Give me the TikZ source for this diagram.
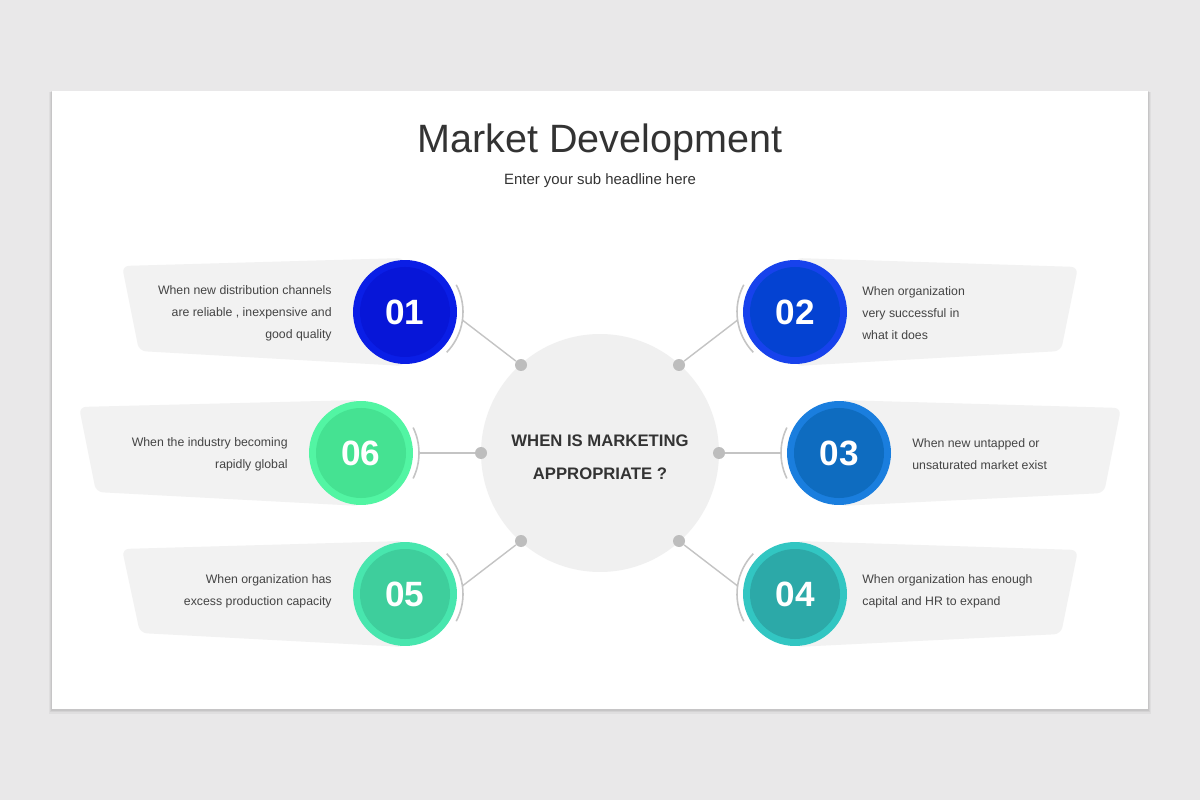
\documentclass[tikz,border=0pt]{standalone}
\usepackage{fontspec}
\setmainfont{Liberation Sans}
\usetikzlibrary{calc}

\definecolor{bgcol}{HTML}{E9E8E9}
\definecolor{panelcol}{HTML}{F2F2F2}
\definecolor{hubcol}{HTML}{F0F0F0}
\definecolor{linecol}{HTML}{C4C4C4}
\definecolor{dotcol}{HTML}{BDBDBD}
\definecolor{txtcol}{HTML}{444444}
\definecolor{titlecol}{HTML}{333333}
\definecolor{c1o}{HTML}{0A1EE6}
\definecolor{c1i}{HTML}{0716D8}
\definecolor{c2o}{HTML}{1742EC}
\definecolor{c2i}{HTML}{0442D2}
\definecolor{c3o}{HTML}{1A7EDE}
\definecolor{c3i}{HTML}{0E6CC0}
\definecolor{c4o}{HTML}{32C6C2}
\definecolor{c4i}{HTML}{2CA9A8}
\definecolor{c5o}{HTML}{48E6AE}
\definecolor{c5i}{HTML}{3ECE9C}
\definecolor{c6o}{HTML}{52F5A3}
\definecolor{c6i}{HTML}{45E292}

\tikzset{
    panel/.style={fill=panelcol, rounded corners=4pt},
    badge/.style={circle, minimum size=2.08cm, inner sep=0pt},
    num/.style={text=white, font=\bfseries\fontsize{20}{24}\selectfont},
    dot/.style={circle, fill=dotcol, minimum size=0.24cm, inner sep=0pt},
    link/.style={draw=linecol, line width=0.8pt},
    rim/.style={draw=linecol, line width=0.9pt},
    info/.style={text=txtcol, font=\fontsize{7}{12.5}\selectfont, inner sep=0pt}
}

\begin{document}
\begin{tikzpicture}[x=0.02cm, y=-0.02cm]
            \fill[bgcol] (0,0) rectangle (1200,800);
            \useasboundingbox (0,0) rectangle (1200,800);
            \fill[black, opacity=0.04] (49,92) rectangle (1151,714);
            \fill[black, opacity=0.05] (50,92) rectangle (1150,712);
            \fill[black, opacity=0.06] (51,91) rectangle (1149,710.5);
            \fill[white] (52,91) rectangle (1148,709);

            \node[text=titlecol, font=\fontsize{22.5}{27}\selectfont] (title) at (600,142) {Market Development};
            \node[text=titlecol, font=\fontsize{8.5}{10}\selectfont] (sub) at (600,181) {Enter your sub headline here};

            \fill[panel] (122,266) -- (405,258) -- (405,366) -- (139,351) -- cycle;
            \fill[panel] (795,258) -- (1078,267) -- (1061,351) -- (795,366) -- cycle;
            \fill[panel] (79,407) -- (361,400) -- (361,506) -- (96,492) -- cycle;
            \fill[panel] (839,400) -- (1121,408) -- (1104,493) -- (839,506) -- cycle;
            \fill[panel] (122,549) -- (405,541) -- (405,647) -- (140,633) -- cycle;
            \fill[panel] (795,541) -- (1078,550) -- (1061,634) -- (795,647) -- cycle;

            \node[circle, fill=hubcol, minimum size=4.76cm] (hub) at (600,453) {};
            \node[text=titlecol, align=center, font=\bfseries\fontsize{9.5}{18.7}\selectfont] (ask) at (600,457) {WHEN IS MARKETING\\APPROPRIATE ?};

            \foreach \i/\x/\y/\co/\ci/\mid/\hs/\dx/\dy in {01/405/312/c1o/c1i/8/36/521/365, 02/795/312/c2o/c2i/172/36/679/365, 03/839/453/c3o/c3i/180/26/719/453, 04/795/594/c4o/c4i/188/36/679/541, 05/405/594/c5o/c5i/-8/36/521/541, 06/361/453/c6o/c6i/0/26/481/453} {
                \node[badge, fill=\co] (b\i) at (\x,\y) {};
                \fill[\ci] (b\i) circle[radius=45];
                \node[num] (n\i) at (b\i) {\i};
                \node[dot] (d\i) at (\dx,\dy) {};
                \coordinate (a\i) at ($(b\i)+({\mid}:58)$);
                \draw[link] (a\i) -- (d\i);
                \draw[rim] ($(b\i)+({\mid-\hs}:58)$) arc[start angle={\mid-\hs}, end angle={\mid+\hs}, radius=58];
            }

            \node[info, anchor=east, align=right] (t01) at (332,313) {When new distribution channels\\are reliable , inexpensive and\\good quality};
            \node[info, anchor=west, align=left] (t02) at (862,313) {When organization\\very successful in\\what it does};
            \node[info, anchor=west, align=left] (t03) at (912,454) {When new untapped or\\unsaturated market exist};
            \node[info, anchor=west, align=left] (t04) at (862,591) {When organization has enough\\capital and HR to expand};
            \node[info, anchor=east, align=right] (t05) at (332,591) {When organization has\\excess production capacity};
            \node[info, anchor=east, align=right] (t06) at (288,454) {When the industry becoming\\rapidly global};
        \end{tikzpicture}
\end{document}
